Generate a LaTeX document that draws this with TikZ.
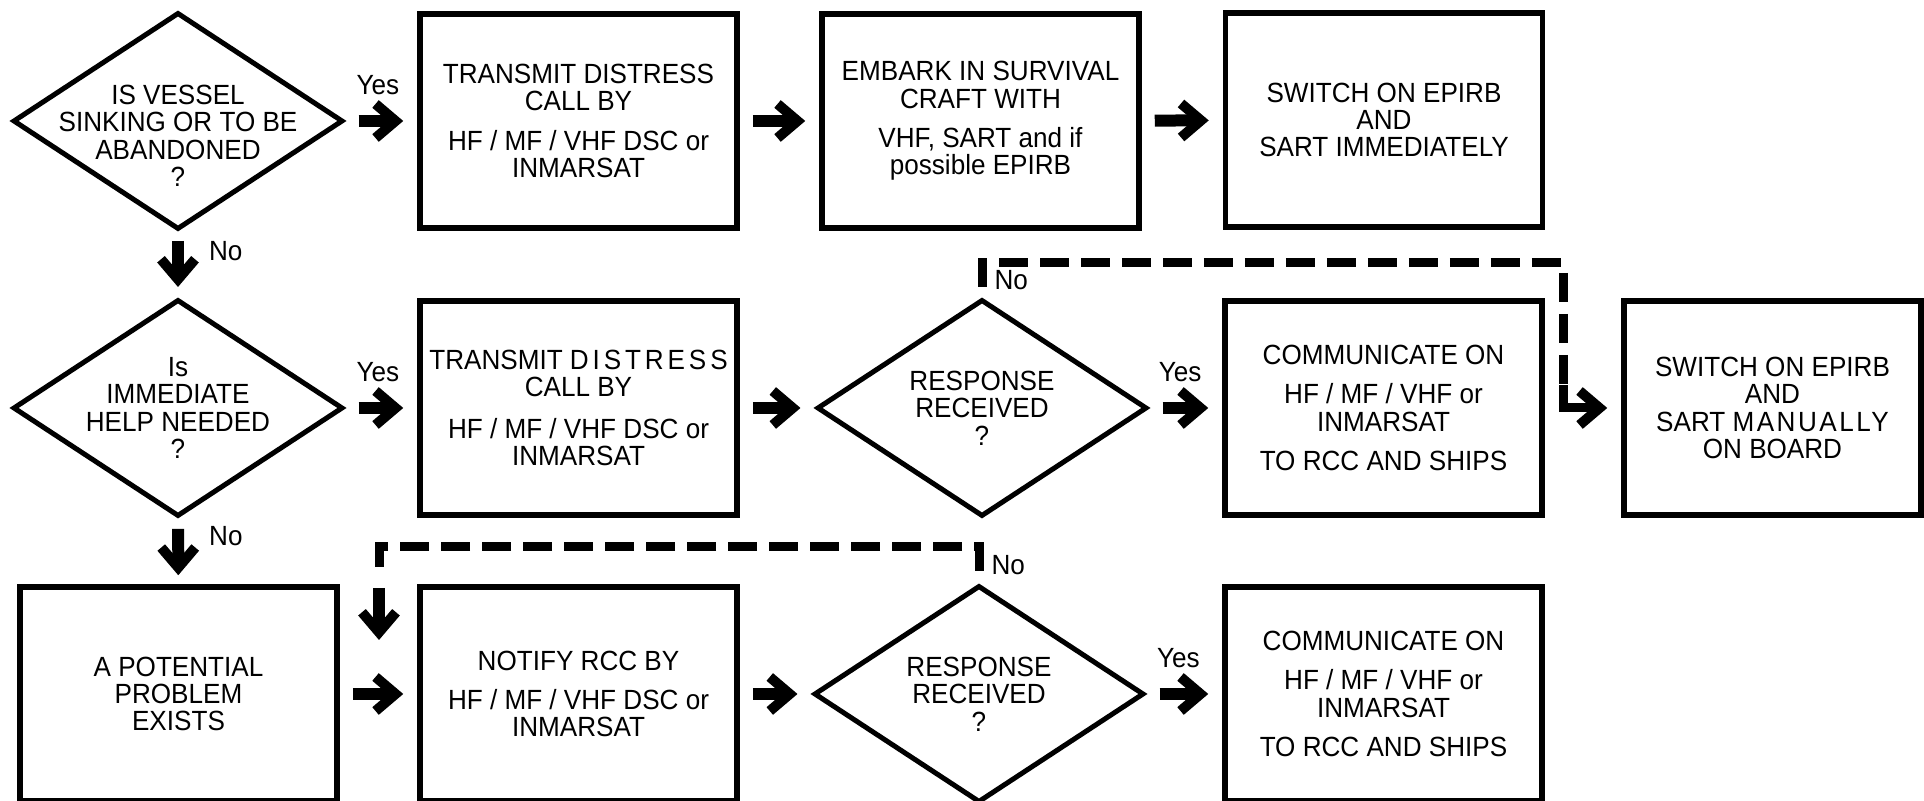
\documentclass[tikz,border=0pt]{standalone}
\usepackage{fontspec}
\setmainfont[FakeStretch=0.94]{Liberation Sans}
\usetikzlibrary{arrows.meta,shapes.geometric}
\begin{document}
\begin{tikzpicture}[font=\fontsize{7.9pt}{7.8pt}\selectfont,
	box/.style={rectangle,draw,line width=0.055cm,minimum width=3.17cm,minimum height=2.14cm,align=center,inner sep=0},
	decision/.style={diamond,draw,line width=0.05cm,minimum width=3.3cm,minimum height=2.17cm,inner sep=0},
	txt/.style={align=center,inner sep=0},
	lbl/.style={inner sep=0.08cm},
	bigarrow/.style={line width=0.12cm,-{Straight Barb[length=0.2cm,width=0.34cm,line width=0.1cm]},
	shorten <=0.13cm,shorten >=0.14cm},
	dashline/.style={line width=0.09cm,dash pattern=on 0.29cm off 0.12cm}]
\useasboundingbox (0,0) rectangle (19.24,-8.01);
\node[decision] (d1) at (1.78,-1.21) {};
\node[txt] (d1t) at ([yshift=-0.15cm]d1) {IS VESSEL\\SINKING OR TO BE\\ABANDONED\\?};
\node[box] (bA1) at (5.785,-1.21) {TRANSMIT DISTRESS\\CALL BY\\[3.4pt]HF / MF / VHF DSC or\\INMARSAT};
\node[box] (bB1) at (9.805,-1.21) {EMBARK IN SURVIVAL\\CRAFT WITH\\[3.4pt]VHF, SART and if\\possible EPIRB};
\node[box] (bC1) at (13.84,-1.2) {SWITCH ON EPIRB\\AND\\SART IMMEDIATELY};

\node[decision] (d2) at (1.78,-4.08) {};
\node[txt] (d2t) at (d2) {Is\\IMMEDIATE\\HELP NEEDED\\?};
\node[box] (bA2) at (5.785,-4.08) {TRANSMIT {\addfontfeature{LetterSpace=14}DISTRESS}\\CALL BY\\[4pt]HF / MF / VHF DSC or\\INMARSAT};
\node[decision] (d3) at (9.82,-4.08) {};
\node[txt] (d3t) at (d3) {RESPONSE\\RECEIVED\\?};
\node[box] (bC2) at (13.835,-4.08) {COMMUNICATE ON\\[3.4pt]HF / MF / VHF or\\INMARSAT\\[3.4pt]TO RCC AND SHIPS};
\node[box,minimum width=2.97cm] (bD2) at (17.725,-4.08) {SWITCH ON EPIRB\\AND\\SART {\addfontfeature{LetterSpace=9}MANUALLY}\\ON BOARD};

\node[box] (b6) at (1.785,-6.94) {A POTENTIAL\\PROBLEM\\EXISTS};
\node[box] (b7) at (5.785,-6.94) {NOTIFY RCC BY\\[3.4pt]HF / MF / VHF DSC or\\INMARSAT};
\node[decision] (d4) at (9.79,-6.94) {};
\node[txt] (d4t) at (d4) {RESPONSE\\RECEIVED\\?};
\node[box] (b8) at (13.835,-6.94) {COMMUNICATE ON\\[3.4pt]HF / MF / VHF or\\INMARSAT\\[3.4pt]TO RCC AND SHIPS};

\draw[bigarrow] (d1) -- node[lbl,above=0.12cm,pos=0.45] (yes1) {Yes} (bA1);
\draw[bigarrow] (bA1) -- (bB1);
\draw[bigarrow] (bB1) -- (bC1);
\draw[bigarrow,shorten <=0.09cm,shorten >=0.1cm] (d1) -- node[lbl,right=0.17cm,pos=0.3] (no1) {No} (d2);
\draw[bigarrow] (d2) -- node[lbl,above=0.12cm,pos=0.45] (yes2) {Yes} (bA2);
\draw[bigarrow] (bA2) -- (d3);
\draw[bigarrow] (d3) -- node[lbl,above=0.12cm,pos=0.42] (yes3) {Yes} (bC2);
\draw[bigarrow,shorten <=0.1cm,shorten >=0.09cm] (d2) -- node[lbl,right=0.17cm,pos=0.27] (no2) {No} (b6);
\draw[bigarrow] (b6) -- (b7);
\draw[bigarrow] (b7) -- (d4);
\draw[bigarrow] (d4) -- node[lbl,above=0.12cm,pos=0.42] (yes4) {Yes} (b8);

\coordinate (bend) at (15.63,-3.85);
\draw[dashline,shorten <=0.1cm] (d3.north) -- ++(0,0.34) node[lbl,anchor=west,pos=0.5] (no3) {No} -| (bend);
\draw[bigarrow,line width=0.09cm,shorten <=0pt] (bend) |- (bD2);
\coordinate (drop) at (3.79,-5.75);
\coordinate (joinpt) at (3.79,-6.4);
\draw[dashline,shorten <=0.12cm] (d4.north) -- ++(0,0.36) node[lbl,anchor=west,pos=0.5] (no4) {No} -| (drop);
\draw[bigarrow,shorten >=0pt] (drop) -- (joinpt);
\end{tikzpicture}
\end{document}
